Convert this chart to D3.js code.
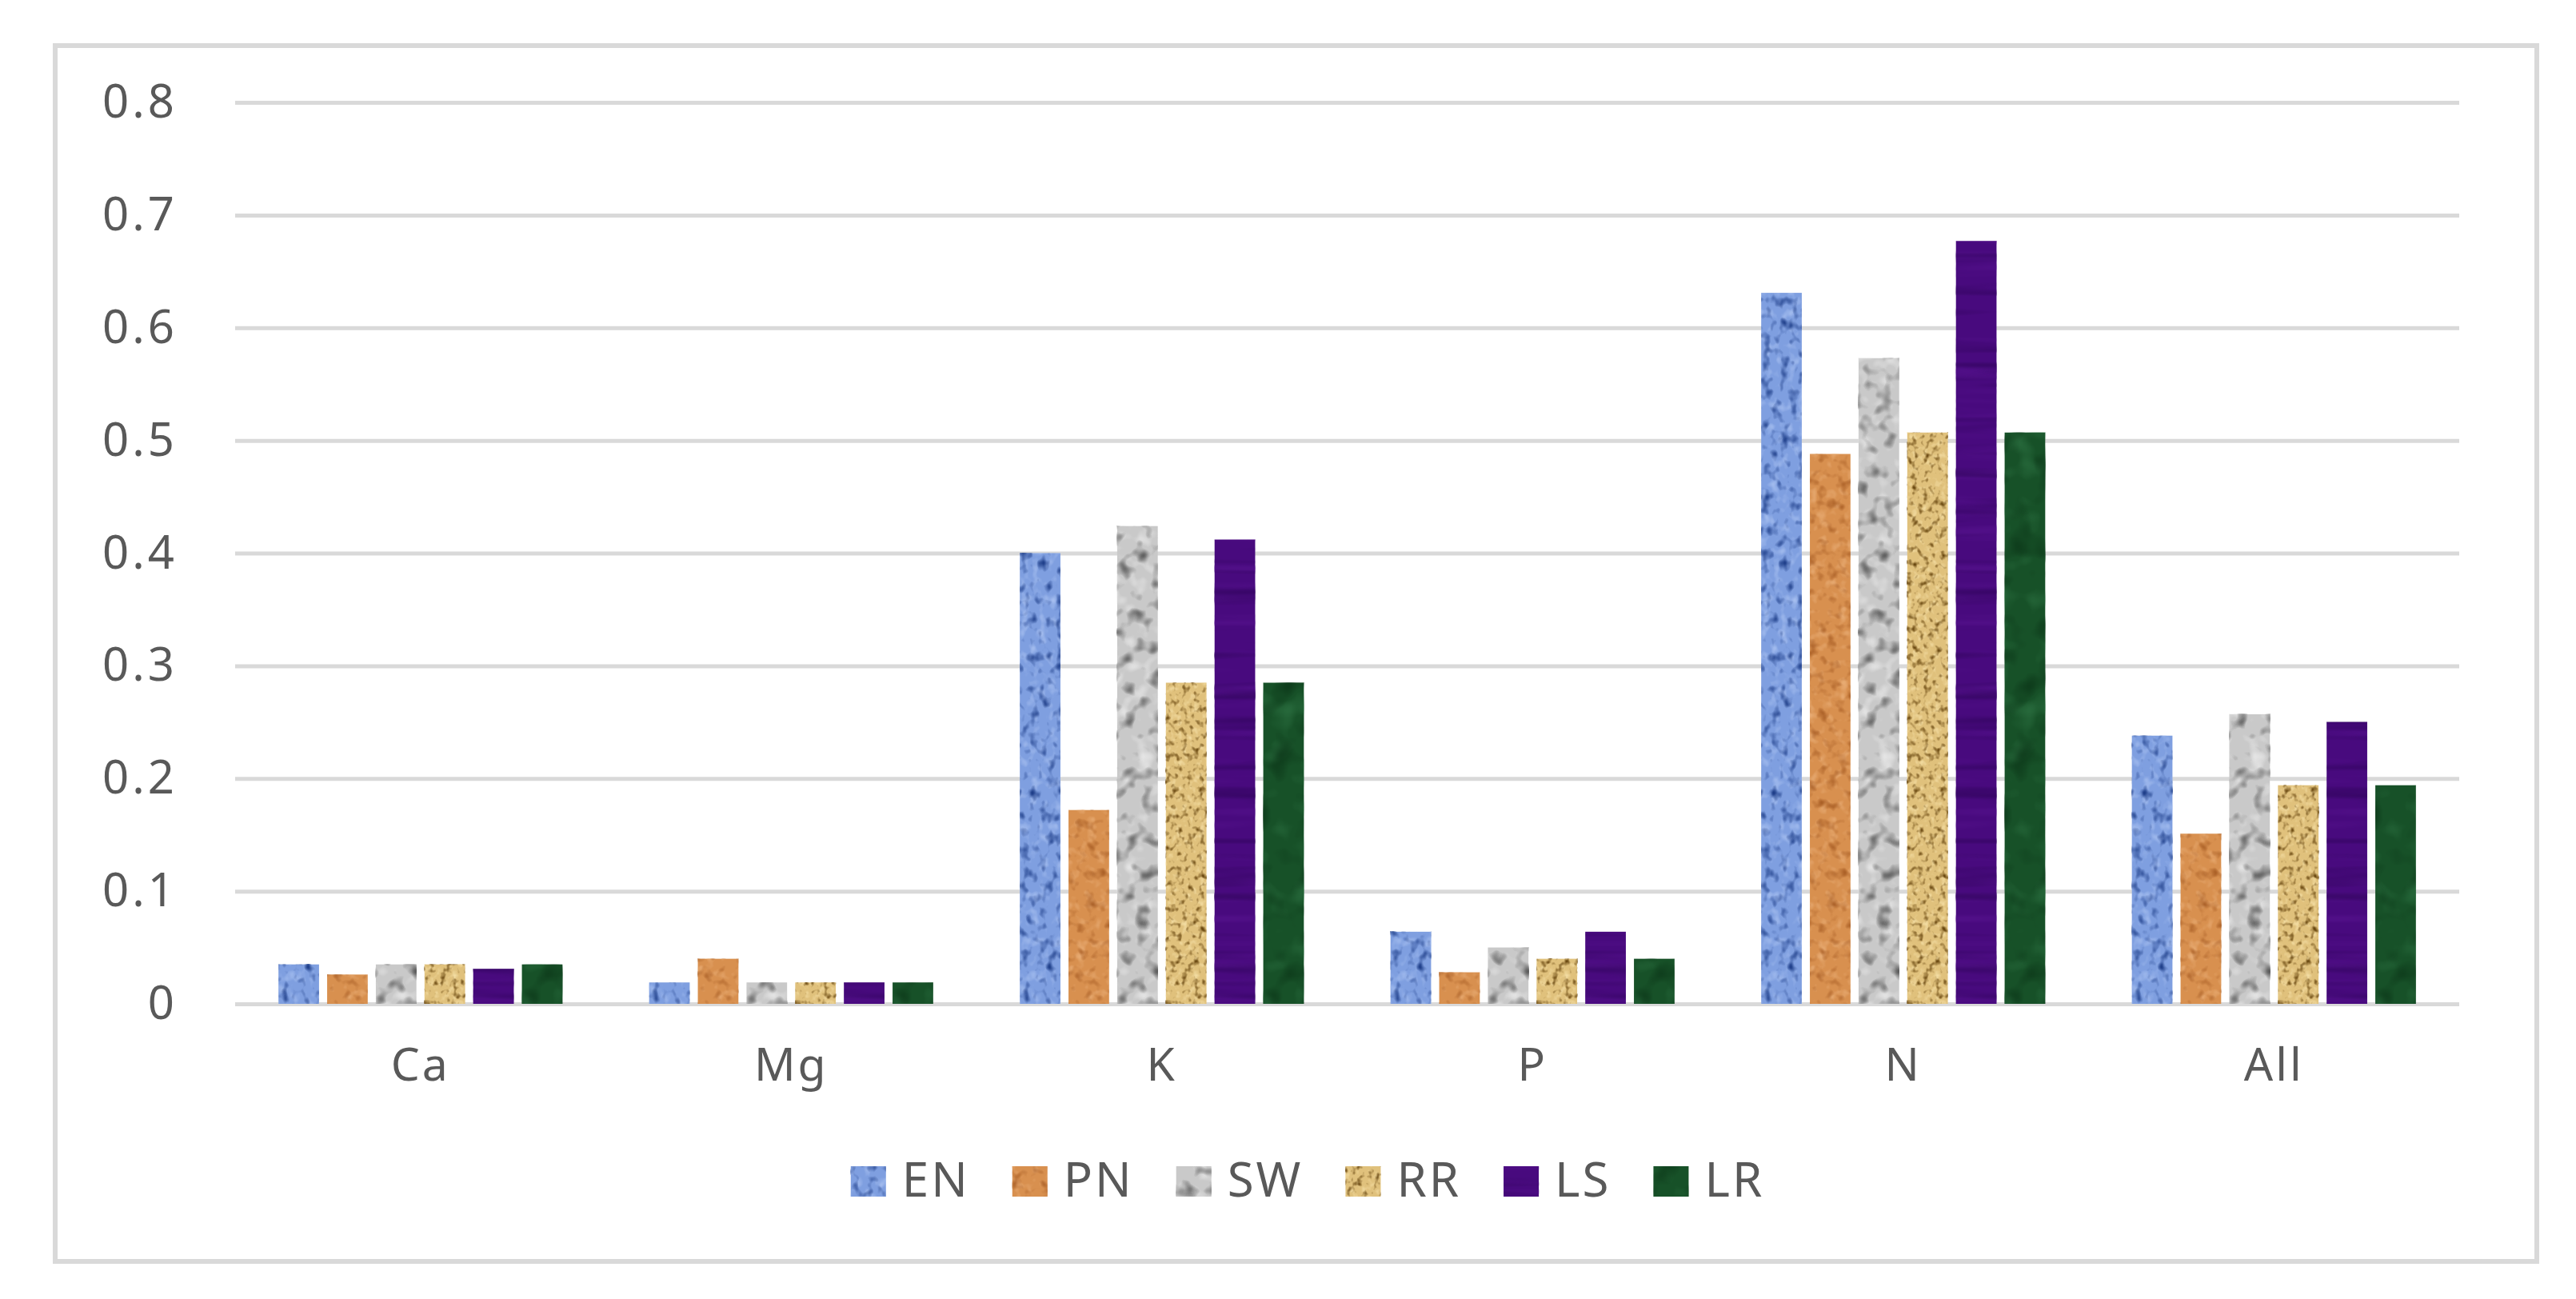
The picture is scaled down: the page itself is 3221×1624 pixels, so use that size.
<!DOCTYPE html>
<html>
<head>
<meta charset="utf-8">
<script src="https://cdn.jsdelivr.net/npm/d3@7"></script>
<style>
  html, body { margin: 0; padding: 0; background: #ffffff; }
  svg { display: block; }
  text { font-family: "Noto Sans", "Open Sans", "DejaVu Sans", sans-serif; fill: #595959; }
</style>
</head>
<body>
<svg id="chart" width="3221" height="1624"></svg>
<script>
// ---- data ----
const categories = ["Ca", "Mg", "K", "P", "N", "All"];
const seriesNames = ["EN", "PN", "SW", "RR", "LS", "LR"];
const EN = [0.035, 0.019, 0.400, 0.064, 0.631, 0.238];
const PN = [0.026, 0.040, 0.172, 0.028, 0.488, 0.151];
const SW = [0.035, 0.019, 0.424, 0.050, 0.573, 0.257];
const RR = [0.035, 0.019, 0.285, 0.040, 0.507, 0.194];
const LS = [0.031, 0.019, 0.412, 0.064, 0.677, 0.250];
const LR = [0.035, 0.019, 0.285, 0.040, 0.507, 0.194];
const yTicks = [0, 0.1, 0.2, 0.3, 0.4, 0.5, 0.6, 0.7, 0.8];

const seriesValues = { EN, PN, SW, RR, LS, LR };

// texture styles per series
const styles = {
  EN: { base: "#7f9fe0", dark: "#1f3f8a", light: "#b4caf5", freq: "0.09 0.07", seed: 3, kd: 2.8, kl: 2.0 },
  PN: { base: "#d8904f", dark: "#a35820", light: "#efb884", freq: "0.08 0.08", seed: 7, kd: 2.4, kl: 2.0 },
  SW: { base: "#c9c9c9", dark: "#555555", light: "#eeeeee", freq: "0.05 0.05", seed: 11, kd: 2.8, kl: 2.2 },
  RR: { base: "#e0c17c", dark: "#6a4810", light: "#f8e4ad", freq: "0.14 0.12", seed: 5, kd: 3.0, kl: 2.2 },
  LS: { base: "#480a7e", dark: "#2c0356", light: "#5a1592", freq: "0.004 0.07", seed: 2, kd: 2.0, kl: 1.6 },
  LR: { base: "#175128", dark: "#0a3316", light: "#2f7545", freq: "0.03 0.03", seed: 9, kd: 2.0, kl: 2.0 }
};

const svg = d3.select("#chart");
svg.append("rect").attr("x", 0).attr("y", 0).attr("width", 3221).attr("height", 1624).attr("fill", "#ffffff");

// ---- filters (textures) ----
const defs = svg.append("defs");
function hexToRgb01(h) {
  const c = d3.rgb(h);
  return [c.r / 255, c.g / 255, c.b / 255];
}
seriesNames.forEach(name => {
  const s = styles[name];
  const f = defs.append("filter").attr("id", "tex-" + name)
    .attr("x", 0).attr("y", 0).attr("width", 1).attr("height", 1)
    .attr("color-interpolation-filters", "sRGB");
  f.append("feTurbulence").attr("type", "fractalNoise").attr("baseFrequency", s.freq)
    .attr("numOctaves", 2).attr("seed", s.seed).attr("result", "noise");
  const d = hexToRgb01(s.dark), l = hexToRgb01(s.light);
  f.append("feColorMatrix").attr("in", "noise").attr("type", "matrix")
    .attr("values", `0 0 0 0 ${d[0]}  0 0 0 0 ${d[1]}  0 0 0 0 ${d[2]}  ${s.kd} 0 0 0 ${-(s.kd * 0.52)}`)
    .attr("result", "darkSpots");
  f.append("feColorMatrix").attr("in", "noise").attr("type", "matrix")
    .attr("values", `0 0 0 0 ${l[0]}  0 0 0 0 ${l[1]}  0 0 0 0 ${l[2]}  0 ${-s.kl} 0 0 ${s.kl * 0.48}`)
    .attr("result", "lightSpots");
  const m = f.append("feMerge");
  m.append("feMergeNode").attr("in", "SourceGraphic");
  m.append("feMergeNode").attr("in", "lightSpots");
  m.append("feMergeNode").attr("in", "darkSpots");
});

// ---- outer frame ----
svg.append("rect")
  .attr("x", 69).attr("y", 57).attr("width", 3103).attr("height", 1520)
  .attr("fill", "none").attr("stroke", "#d9d9d9").attr("stroke-width", 6);

// ---- scales ----
const plotLeft = 294, plotRight = 3075;
const y = d3.scaleLinear().domain([0, 0.8]).range([1255, 128]);
const x0 = d3.scaleBand().domain(categories).range([plotLeft, plotRight]).padding(0);
const x1 = d3.scaleBand().domain(seriesNames).range([0, x0.bandwidth()])
  .paddingInner(1 / 6).paddingOuter(0.89);

// ---- y axis with gridlines ----
const yAxis = d3.axisLeft(y)
  .tickValues(yTicks)
  .tickSize(-(plotRight - plotLeft))
  .tickPadding(72)
  .tickFormat(d => d === 0 ? "0" : d3.format(".1f")(d));
const gy = svg.append("g").attr("transform", `translate(${plotLeft},0)`).call(yAxis);
gy.select(".domain").remove();
gy.selectAll(".tick line").attr("stroke", "#d9d9d9").attr("stroke-width", 5);
gy.selectAll(".tick text").attr("font-size", 58).style("fill", "#595959")
  .style("letter-spacing", "4px")
  .attr("font-family", "'Noto Sans', 'Open Sans', sans-serif");

// ---- bars ----
const groups = svg.append("g").selectAll("g.cat")
  .data(categories)
  .join("g")
  .attr("class", "cat")
  .attr("transform", d => `translate(${x0(d)},0)`);

groups.selectAll("rect")
  .data((c, i) => seriesNames.map(s => ({ series: s, value: seriesValues[s][i] })))
  .join("rect")
  .attr("x", d => x1(d.series))
  .attr("y", d => y(d.value))
  .attr("width", x1.bandwidth())
  .attr("height", d => y(0) - y(d.value))
  .attr("fill", d => styles[d.series].base)
  .attr("filter", d => `url(#tex-${d.series})`);

// ---- x axis labels ----
const xAxis = d3.axisBottom(x0).tickSize(0).tickPadding(56);
const gx = svg.append("g").attr("transform", `translate(0,${y(0)})`).call(xAxis);
gx.select(".domain").remove();
gx.selectAll(".tick text").attr("font-size", 57).style("fill", "#595959")
  .style("letter-spacing", "3px")
  .attr("font-family", "'Noto Sans', 'Open Sans', sans-serif");

// ---- legend ----
const legend = svg.append("g");
const swW = 44, swH = 38, swGap = 20, itemGap = 53, legendBaseline = 1496;
const items = legend.selectAll("g.item").data(seriesNames).join("g").attr("class", "item");
items.append("rect")
  .attr("width", swW).attr("height", swH)
  .attr("y", legendBaseline - swH)
  .attr("fill", d => styles[d].base)
  .attr("filter", d => `url(#tex-${d})`);
items.append("text")
  .attr("x", swW + swGap)
  .attr("y", legendBaseline)
  .attr("font-size", 60)
  .style("letter-spacing", "3px")
  .text(d => d);
let widths = [];
items.each(function () { widths.push(d3.select(this).select("text").node().getComputedTextLength()); });
const itemW = widths.map(w => swW + swGap + w);
const total = d3.sum(itemW) + itemGap * (seriesNames.length - 1);
let cx = 1635 - total / 2;
items.attr("transform", (d, i) => {
  const t = `translate(${cx},0)`;
  cx += itemW[i] + itemGap;
  return t;
});
</script>
</body>
</html>
